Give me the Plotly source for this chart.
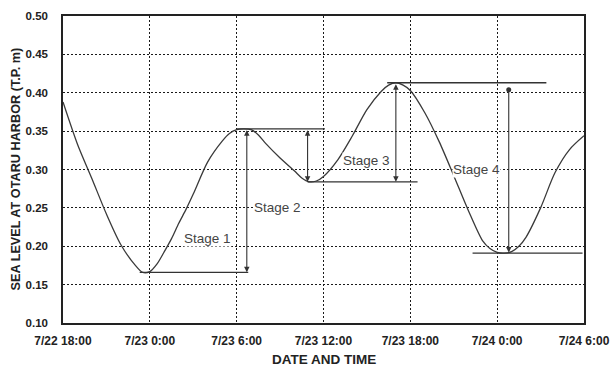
import plotly.graph_objects as go
import pandas as pd

# ---- data ----
times = [
    "2000-07-22 18:00", "2000-07-22 19:00", "2000-07-22 20:00", "2000-07-22 21:00",
    "2000-07-22 22:00", "2000-07-22 23:00", "2000-07-22 23:30", "2000-07-23 00:00",
    "2000-07-23 00:30", "2000-07-23 01:00", "2000-07-23 01:30", "2000-07-23 02:00",
    "2000-07-23 02:30", "2000-07-23 03:00", "2000-07-23 04:00", "2000-07-23 05:00",
    "2000-07-23 05:30", "2000-07-23 06:00", "2000-07-23 06:30", "2000-07-23 07:00",
    "2000-07-23 07:30", "2000-07-23 08:00", "2000-07-23 09:00", "2000-07-23 10:00",
    "2000-07-23 10:30", "2000-07-23 11:00", "2000-07-23 11:30", "2000-07-23 12:00",
    "2000-07-23 13:00", "2000-07-23 14:00", "2000-07-23 15:00", "2000-07-23 16:00",
    "2000-07-23 16:30", "2000-07-23 17:00", "2000-07-23 17:30", "2000-07-23 18:00",
    "2000-07-23 19:00", "2000-07-23 20:00", "2000-07-23 21:00", "2000-07-23 22:00",
    "2000-07-23 23:00", "2000-07-23 23:30", "2000-07-24 00:00", "2000-07-24 00:30",
    "2000-07-24 01:00", "2000-07-24 01:30", "2000-07-24 02:00", "2000-07-24 03:00",
    "2000-07-24 04:00", "2000-07-24 05:00", "2000-07-24 06:00",
]
sea_level = [
    0.388, 0.333, 0.288, 0.242,
    0.202, 0.175, 0.166, 0.167,
    0.177, 0.193, 0.210, 0.230,
    0.248, 0.268, 0.310, 0.337,
    0.347, 0.352, 0.353, 0.352,
    0.345, 0.334, 0.315, 0.298,
    0.289, 0.284, 0.285, 0.291,
    0.313, 0.344, 0.378, 0.402,
    0.410, 0.413, 0.410, 0.403,
    0.374, 0.336, 0.292, 0.247,
    0.207, 0.197, 0.192, 0.191,
    0.193, 0.200, 0.212, 0.250,
    0.296, 0.326, 0.344,
]

tick_times = ["2000-07-22 18:00", "2000-07-23 00:00", "2000-07-23 06:00",
              "2000-07-23 12:00", "2000-07-23 18:00", "2000-07-24 00:00",
              "2000-07-24 06:00"]
tick_labels = ["7/22 18:00", "7/23 0:00", "7/23 6:00", "7/23 12:00",
               "7/23 18:00", "7/24 0:00", "7/24 6:00"]
y_ticks = [0.10, 0.15, 0.20, 0.25, 0.30, 0.35, 0.40, 0.45, 0.50]
x_title = "DATE AND TIME"
y_title = "SEA LEVEL AT OTARU HARBOR (T.P. m)"

# reference levels (horizontal lines)
level_values = [0.166, 0.353, 0.284, 0.413, 0.191]
level_start = ["2000-07-22 23:18", "2000-07-23 06:00", "2000-07-23 10:54",
               "2000-07-23 16:24", "2000-07-23 22:18"]
level_end = ["2000-07-23 06:48", "2000-07-23 12:06", "2000-07-23 18:30",
             "2000-07-24 03:24", "2000-07-24 05:54"]

# stage arrows
stage_names = ["Stage 1", "Stage 2", "Stage 3", "Stage 4"]
stage_arrow_time = ["2000-07-23 06:42", "2000-07-23 10:54", "2000-07-23 17:00",
                    "2000-07-24 00:48"]
stage_top = [0.353, 0.353, 0.413, 0.404]
stage_bottom = [0.166, 0.284, 0.284, 0.192]
stage_label_time = ["2000-07-23 04:00", "2000-07-23 08:50", "2000-07-23 15:00",
                    "2000-07-23 22:35"]
stage_label_y = [0.210, 0.250, 0.312, 0.300]

INK = "#333333"
FONT = "Liberation Sans"

fig = go.Figure()
fig.add_trace(go.Scatter(
    x=pd.to_datetime(times), y=sea_level, mode="lines",
    line=dict(color="#3a3a3a", width=1.3, shape="spline", smoothing=0.8),
    showlegend=False, hoverinfo="skip",
))

shapes = []
for y, s, e in zip(level_values, level_start, level_end):
    shapes.append(dict(type="line", xref="x", yref="y", x0=s, x1=e, y0=y, y1=y,
                       line=dict(color=INK, width=1.3)))

annotations = []
for i, name in enumerate(stage_names):
    both = i < 3
    annotations.append(dict(
        x=stage_arrow_time[i], y=stage_bottom[i], ax=stage_arrow_time[i], ay=stage_top[i],
        xref="x", yref="y", axref="x", ayref="y", text="", showarrow=True,
        arrowhead=2, startarrowhead=2, arrowsize=1.0, arrowwidth=1.1,
        arrowside="end+start" if both else "end", arrowcolor=INK,
        standoff=0, startstandoff=0,
    ))
    annotations.append(dict(
        x=stage_label_time[i], y=stage_label_y[i], xref="x", yref="y",
        text=name, showarrow=False, bgcolor="white", borderpad=0,
        font=dict(family=FONT, size=13.5, color="#444444"),
    ))

annotations.append(dict(
    x=0.5, y=0, xref="paper", yref="paper", xanchor="center", yanchor="middle",
    yshift=-36, text=x_title, showarrow=False,
    font=dict(family=FONT, size=13.5, weight="bold", color="#222222"),
))
annotations.append(dict(
    x=0, y=0.5, xref="paper", yref="paper", xanchor="center", yanchor="middle",
    xshift=-48, textangle=-90, text=y_title, showarrow=False,
    font=dict(family=FONT, size=12.7, weight="bold", color="#222222"),
))

fig.add_trace(go.Scatter(
    x=[pd.to_datetime(stage_arrow_time[3])], y=[stage_top[3]], mode="markers",
    marker=dict(color=INK, size=5, symbol="circle"), showlegend=False, hoverinfo="skip",
))

fig.update_layout(
    width=614, height=366,
    margin=dict(l=63, r=30, t=16, b=43),
    paper_bgcolor="white", plot_bgcolor="white",
    font=dict(family=FONT, size=11, color="#222222"),
    shapes=shapes, annotations=annotations,
    showlegend=False,
)
fig.update_xaxes(
    automargin=False,
    range=[pd.Timestamp(tick_times[0]), pd.Timestamp(tick_times[-1])],
    tickmode="array", tickvals=pd.to_datetime(tick_times), ticktext=tick_labels,
    showgrid=True, gridcolor="#1a1a1a", griddash="2px,2px", gridwidth=1.2,
    showline=True, linecolor="#222222", linewidth=1.5, mirror=True,
    ticks="", ticklabelstandoff=6,
    tickfont=dict(family=FONT, size=12, weight="bold", color="#222222"),
    zeroline=False,
)
fig.update_yaxes(
    automargin=False,
    range=[0.10, 0.50], tickmode="array", tickvals=y_ticks,
    ticktext=[f"{v:.2f}" for v in y_ticks],
    showgrid=True, gridcolor="#1a1a1a", griddash="2px,2px", gridwidth=1.2,
    showline=True, linecolor="#222222", linewidth=1.5, mirror=True,
    ticks="", ticklabelstandoff=11,
    tickfont=dict(family=FONT, size=11.5, weight="bold", color="#222222"),
    zeroline=False,
)

fig.write_html("out.html")
